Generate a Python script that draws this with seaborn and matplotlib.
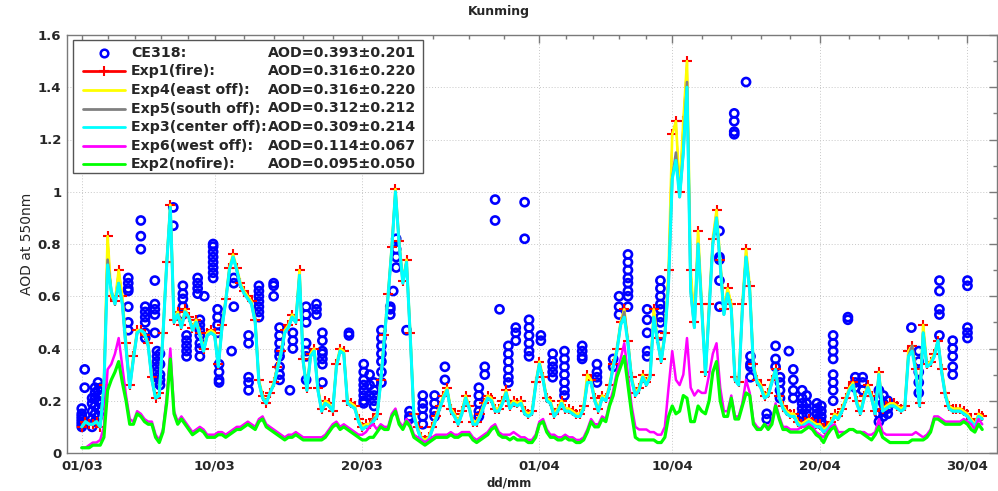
"""AOD time series at Kunming: CE318 observations vs. fire-emission experiments."""

import matplotlib
matplotlib.use("Agg")
import matplotlib.pyplot as plt
import numpy as np
import pandas as pd
import seaborn as sns
from matplotlib.lines import Line2D
from matplotlib.patches import Rectangle
from matplotlib.ticker import FixedLocator, NullFormatter

# model output every 6 h, time in days since 01/03 00:00
STEP_DAYS = 0.25

exp1_fire = [
    0.10, 0.12, 0.11, 0.11, 0.12, 0.10, 0.26, 0.83,
    0.60, 0.58, 0.70, 0.60, 0.42, 0.26, 0.37, 0.47,
    0.47, 0.45, 0.42, 0.29, 0.21, 0.23, 0.46, 0.73,
    0.95, 0.51, 0.54, 0.49, 0.55, 0.52, 0.48, 0.51,
    0.46, 0.40, 0.46, 0.47, 0.46, 0.34, 0.49, 0.59,
    0.71, 0.76, 0.71, 0.65, 0.62, 0.60, 0.58, 0.51,
    0.28, 0.22, 0.19, 0.23, 0.27, 0.33, 0.39, 0.47,
    0.49, 0.53, 0.51, 0.70, 0.36, 0.25, 0.38, 0.40,
    0.25, 0.17, 0.20, 0.19, 0.16, 0.34, 0.40, 0.39,
    0.20, 0.19, 0.18, 0.13, 0.10, 0.11, 0.11, 0.13,
    0.15, 0.28, 0.45, 0.61, 0.79, 1.01, 0.81, 0.66,
    0.74, 0.46, 0.15, 0.10, 0.06, 0.05, 0.06, 0.10,
    0.14, 0.18, 0.22, 0.25, 0.17, 0.15, 0.12, 0.16,
    0.22, 0.18, 0.12, 0.12, 0.15, 0.19, 0.22, 0.21,
    0.17, 0.17, 0.20, 0.24, 0.18, 0.20, 0.19, 0.20,
    0.16, 0.15, 0.16, 0.27, 0.35, 0.29, 0.21, 0.20,
    0.15, 0.17, 0.20, 0.17, 0.17, 0.16, 0.15, 0.15,
    0.18, 0.30, 0.28, 0.21, 0.17, 0.22, 0.21, 0.26,
    0.34, 0.40, 0.50, 0.55, 0.43, 0.29, 0.23, 0.25,
    0.30, 0.27, 0.30, 0.55, 0.44, 0.36, 0.46, 0.70,
    1.22, 1.27, 1.00, 1.27, 1.50, 0.70, 0.50, 0.85,
    0.57, 0.31, 0.57, 0.82, 0.93, 0.74, 0.55, 0.63,
    0.57, 0.29, 0.27, 0.57, 0.78, 0.64, 0.34, 0.28,
    0.26, 0.22, 0.23, 0.28, 0.32, 0.22, 0.18, 0.16,
    0.15, 0.15, 0.12, 0.11, 0.12, 0.13, 0.12, 0.11,
    0.11, 0.09, 0.10, 0.12, 0.15, 0.14, 0.17, 0.21,
    0.25, 0.27, 0.20, 0.16, 0.22, 0.26, 0.22, 0.16,
    0.31, 0.17, 0.18, 0.19, 0.19, 0.18, 0.17, 0.18,
    0.39, 0.41, 0.32, 0.19, 0.49, 0.34, 0.35, 0.38,
    0.43, 0.32, 0.23, 0.18, 0.17, 0.17, 0.17, 0.16,
    0.15, 0.13, 0.11, 0.15, 0.14,
]

# east-off run gives the same statistics as the fire run (0.316 +- 0.220)
exp4_east_off = exp1_fire

exp5_south_off = [
    0.10, 0.12, 0.11, 0.11, 0.12, 0.10, 0.25, 0.74,
    0.62, 0.57, 0.65, 0.57, 0.40, 0.25, 0.36, 0.46,
    0.47, 0.46, 0.41, 0.28, 0.21, 0.22, 0.45, 0.72,
    0.94, 0.50, 0.53, 0.48, 0.54, 0.52, 0.47, 0.50,
    0.45, 0.39, 0.45, 0.46, 0.45, 0.33, 0.48, 0.58,
    0.70, 0.75, 0.70, 0.64, 0.61, 0.59, 0.57, 0.50,
    0.27, 0.21, 0.19, 0.23, 0.26, 0.32, 0.38, 0.46,
    0.48, 0.52, 0.50, 0.68, 0.35, 0.24, 0.37, 0.39,
    0.24, 0.16, 0.19, 0.18, 0.16, 0.33, 0.39, 0.38,
    0.19, 0.18, 0.17, 0.12, 0.09, 0.10, 0.10, 0.13,
    0.14, 0.27, 0.44, 0.60, 0.78, 1.00, 0.80, 0.65,
    0.73, 0.45, 0.14, 0.09, 0.05, 0.04, 0.05, 0.09,
    0.13, 0.17, 0.21, 0.24, 0.16, 0.14, 0.11, 0.15,
    0.21, 0.17, 0.11, 0.11, 0.14, 0.18, 0.21, 0.20,
    0.16, 0.16, 0.19, 0.23, 0.17, 0.19, 0.18, 0.19,
    0.15, 0.14, 0.15, 0.26, 0.34, 0.28, 0.20, 0.19,
    0.14, 0.16, 0.19, 0.16, 0.16, 0.15, 0.14, 0.14,
    0.17, 0.27, 0.27, 0.20, 0.16, 0.21, 0.20, 0.25,
    0.33, 0.39, 0.49, 0.54, 0.42, 0.28, 0.22, 0.24,
    0.29, 0.26, 0.29, 0.52, 0.43, 0.35, 0.45, 0.65,
    1.05, 1.15, 0.98, 1.15, 1.42, 0.62, 0.48, 0.80,
    0.55, 0.30, 0.55, 0.80, 0.90, 0.72, 0.53, 0.61,
    0.55, 0.28, 0.26, 0.55, 0.75, 0.62, 0.33, 0.27,
    0.25, 0.21, 0.22, 0.27, 0.32, 0.21, 0.17, 0.15,
    0.14, 0.14, 0.11, 0.10, 0.11, 0.12, 0.11, 0.10,
    0.10, 0.08, 0.09, 0.11, 0.14, 0.13, 0.16, 0.20,
    0.24, 0.26, 0.19, 0.15, 0.21, 0.25, 0.21, 0.15,
    0.30, 0.16, 0.17, 0.18, 0.18, 0.17, 0.16, 0.17,
    0.37, 0.41, 0.31, 0.18, 0.46, 0.33, 0.34, 0.37,
    0.43, 0.31, 0.22, 0.17, 0.16, 0.16, 0.16, 0.15,
    0.14, 0.12, 0.10, 0.14, 0.13,
]

exp3_center_off = [
    0.10, 0.12, 0.11, 0.11, 0.12, 0.10, 0.25, 0.72,
    0.62, 0.57, 0.65, 0.57, 0.40, 0.25, 0.36, 0.46,
    0.47, 0.46, 0.41, 0.28, 0.21, 0.22, 0.45, 0.72,
    0.94, 0.50, 0.53, 0.48, 0.54, 0.52, 0.47, 0.50,
    0.45, 0.39, 0.45, 0.46, 0.45, 0.33, 0.48, 0.58,
    0.70, 0.75, 0.70, 0.64, 0.61, 0.59, 0.57, 0.50,
    0.27, 0.21, 0.19, 0.23, 0.26, 0.32, 0.38, 0.46,
    0.48, 0.52, 0.50, 0.68, 0.35, 0.24, 0.37, 0.39,
    0.24, 0.16, 0.19, 0.18, 0.16, 0.33, 0.39, 0.38,
    0.19, 0.18, 0.17, 0.12, 0.09, 0.10, 0.10, 0.12,
    0.14, 0.27, 0.44, 0.60, 0.78, 1.00, 0.80, 0.65,
    0.73, 0.45, 0.14, 0.09, 0.05, 0.04, 0.05, 0.09,
    0.13, 0.17, 0.21, 0.24, 0.16, 0.14, 0.11, 0.15,
    0.21, 0.17, 0.11, 0.11, 0.14, 0.18, 0.21, 0.20,
    0.16, 0.16, 0.19, 0.23, 0.17, 0.19, 0.18, 0.19,
    0.15, 0.14, 0.15, 0.26, 0.34, 0.28, 0.20, 0.19,
    0.14, 0.16, 0.19, 0.16, 0.16, 0.15, 0.14, 0.14,
    0.17, 0.27, 0.27, 0.20, 0.16, 0.21, 0.20, 0.25,
    0.33, 0.39, 0.49, 0.52, 0.42, 0.28, 0.22, 0.24,
    0.29, 0.26, 0.29, 0.52, 0.43, 0.35, 0.45, 0.65,
    1.05, 1.12, 0.98, 1.15, 1.40, 0.62, 0.48, 0.80,
    0.55, 0.30, 0.55, 0.80, 0.90, 0.72, 0.53, 0.61,
    0.55, 0.28, 0.26, 0.55, 0.75, 0.62, 0.33, 0.27,
    0.25, 0.21, 0.22, 0.27, 0.32, 0.21, 0.17, 0.15,
    0.14, 0.14, 0.11, 0.10, 0.11, 0.12, 0.11, 0.10,
    0.10, 0.08, 0.09, 0.11, 0.14, 0.13, 0.16, 0.20,
    0.24, 0.26, 0.19, 0.15, 0.21, 0.25, 0.21, 0.15,
    0.30, 0.16, 0.17, 0.18, 0.18, 0.17, 0.16, 0.17,
    0.37, 0.39, 0.31, 0.18, 0.46, 0.33, 0.34, 0.37,
    0.43, 0.31, 0.22, 0.17, 0.16, 0.16, 0.16, 0.15,
    0.14, 0.12, 0.10, 0.14, 0.13,
]

exp6_west_off = [
    0.02, 0.02, 0.03, 0.04, 0.04, 0.05, 0.10, 0.32,
    0.34, 0.38, 0.44, 0.33, 0.22, 0.13, 0.12, 0.16,
    0.15, 0.13, 0.12, 0.12, 0.07, 0.05, 0.09, 0.21,
    0.40, 0.16, 0.12, 0.14, 0.12, 0.10, 0.08, 0.09,
    0.10, 0.09, 0.07, 0.07, 0.07, 0.08, 0.08, 0.07,
    0.08, 0.09, 0.10, 0.10, 0.11, 0.12, 0.11, 0.10,
    0.13, 0.14, 0.11, 0.10, 0.09, 0.08, 0.07, 0.06,
    0.07, 0.07, 0.08, 0.07, 0.06, 0.06, 0.06, 0.06,
    0.06, 0.06, 0.07, 0.09, 0.11, 0.12, 0.10, 0.11,
    0.10, 0.09, 0.08, 0.07, 0.07, 0.08, 0.10, 0.11,
    0.09, 0.11, 0.10, 0.10, 0.15, 0.17, 0.12, 0.10,
    0.13, 0.11, 0.07, 0.06, 0.05, 0.04, 0.05, 0.06,
    0.07, 0.07, 0.07, 0.07, 0.08, 0.07, 0.07, 0.08,
    0.08, 0.08, 0.06, 0.05, 0.06, 0.07, 0.08, 0.10,
    0.11, 0.08, 0.07, 0.07, 0.07, 0.08, 0.07, 0.06,
    0.06, 0.05, 0.05, 0.07, 0.12, 0.13, 0.09, 0.07,
    0.07, 0.06, 0.06, 0.07, 0.06, 0.06, 0.05, 0.05,
    0.06, 0.09, 0.13, 0.11, 0.11, 0.14, 0.13, 0.19,
    0.24, 0.31, 0.36, 0.42, 0.30, 0.18, 0.10, 0.09,
    0.09, 0.09, 0.08, 0.08, 0.07, 0.07, 0.10, 0.25,
    0.39, 0.28, 0.26, 0.30, 0.44, 0.25, 0.22, 0.24,
    0.23, 0.23, 0.30, 0.38, 0.42, 0.25, 0.16, 0.16,
    0.22, 0.14, 0.14, 0.19, 0.28, 0.23, 0.12, 0.10,
    0.09, 0.11, 0.10, 0.12, 0.19, 0.14, 0.10, 0.10,
    0.09, 0.09, 0.09, 0.10, 0.10, 0.11, 0.10, 0.08,
    0.07, 0.06, 0.08, 0.10, 0.11, 0.08, 0.08, 0.08,
    0.09, 0.09, 0.08, 0.08, 0.08, 0.07, 0.07, 0.08,
    0.13, 0.08, 0.07, 0.07, 0.07, 0.07, 0.07, 0.07,
    0.07, 0.07, 0.08, 0.07, 0.06, 0.07, 0.09, 0.14,
    0.14, 0.13, 0.12, 0.12, 0.12, 0.12, 0.12, 0.13,
    0.12, 0.11, 0.09, 0.13, 0.11,
]

exp2_nofire = [
    0.02, 0.02, 0.02, 0.03, 0.03, 0.03, 0.06, 0.24,
    0.28, 0.31, 0.35, 0.27, 0.20, 0.11, 0.11, 0.15,
    0.14, 0.12, 0.11, 0.11, 0.06, 0.04, 0.08, 0.19,
    0.36, 0.15, 0.11, 0.13, 0.11, 0.09, 0.07, 0.08,
    0.09, 0.08, 0.06, 0.06, 0.06, 0.07, 0.07, 0.06,
    0.07, 0.08, 0.09, 0.09, 0.10, 0.11, 0.10, 0.09,
    0.12, 0.13, 0.10, 0.09, 0.08, 0.07, 0.06, 0.05,
    0.06, 0.06, 0.07, 0.06, 0.05, 0.05, 0.05, 0.05,
    0.05, 0.05, 0.06, 0.08, 0.10, 0.11, 0.09, 0.10,
    0.09, 0.08, 0.07, 0.06, 0.05, 0.05, 0.06, 0.06,
    0.08, 0.10, 0.09, 0.09, 0.14, 0.16, 0.11, 0.09,
    0.12, 0.10, 0.06, 0.05, 0.04, 0.03, 0.04, 0.05,
    0.06, 0.06, 0.06, 0.06, 0.07, 0.06, 0.06, 0.07,
    0.07, 0.07, 0.05, 0.04, 0.05, 0.06, 0.07, 0.09,
    0.10, 0.07, 0.06, 0.06, 0.05, 0.06, 0.05, 0.05,
    0.05, 0.04, 0.04, 0.06, 0.11, 0.12, 0.08, 0.06,
    0.06, 0.05, 0.05, 0.06, 0.05, 0.05, 0.04, 0.04,
    0.05, 0.08, 0.12, 0.10, 0.10, 0.13, 0.12, 0.18,
    0.22, 0.29, 0.33, 0.37, 0.26, 0.15, 0.06, 0.05,
    0.05, 0.05, 0.05, 0.05, 0.04, 0.04, 0.06, 0.14,
    0.18, 0.15, 0.16, 0.22, 0.21, 0.12, 0.12, 0.18,
    0.16, 0.15, 0.20, 0.31, 0.35, 0.20, 0.14, 0.14,
    0.21, 0.13, 0.13, 0.18, 0.23, 0.22, 0.11, 0.09,
    0.09, 0.11, 0.09, 0.11, 0.18, 0.13, 0.09, 0.09,
    0.08, 0.08, 0.08, 0.08, 0.09, 0.10, 0.09, 0.07,
    0.06, 0.04, 0.07, 0.09, 0.10, 0.06, 0.07, 0.08,
    0.09, 0.09, 0.08, 0.08, 0.07, 0.06, 0.05, 0.07,
    0.10, 0.06, 0.05, 0.04, 0.04, 0.04, 0.04, 0.04,
    0.04, 0.05, 0.05, 0.05, 0.05, 0.06, 0.08, 0.13,
    0.13, 0.12, 0.11, 0.11, 0.11, 0.11, 0.11, 0.12,
    0.11, 0.09, 0.08, 0.11, 0.09,
]

# CE318 sun photometer: day of each observation group and its AOD values
ce318_days = [
    0.0, 0.2, 0.7, 0.9, 1.1, 1.3, 3.15, 4.0, 4.3, 4.95, 5.1, 5.3, 6.2, 6.85,
    7.1, 7.85, 8.0, 8.3, 8.9, 9.2, 9.3, 10.15, 10.3, 11.3, 12.0, 13.0, 13.4,
    14.1, 14.3, 15.2, 15.9, 16.3, 18.1, 19.1, 19.5, 19.8, 20.3, 20.9, 21.1,
    21.3, 22.0, 22.2, 23.1, 23.9, 24.6, 26.9, 27.3, 28.0, 28.3, 28.9, 29.4,
    30.0, 30.3, 31.1, 31.9, 32.7, 33.9, 34.9, 36.0, 36.4, 37.0, 38.3, 39.2,
    43.2, 44.2, 45.0, 45.3, 46.4, 47.0, 47.3, 47.9, 48.2, 48.8, 49.1, 49.8,
    50.1, 50.9, 51.9, 52.4, 52.9, 54.0, 54.3, 54.6, 56.2, 56.7, 58.1, 59.0,
    60.0,
]
ce318_aod = [
    [0.17, 0.15, 0.14, 0.13, 0.12, 0.11, 0.10], [0.32, 0.25],
    [0.10, 0.13, 0.16, 0.19, 0.21], [0.12, 0.15, 0.18, 0.21, 0.23, 0.25],
    [0.14, 0.17, 0.20, 0.24, 0.27], [0.16, 0.19, 0.22, 0.25],
    [0.67, 0.65, 0.63, 0.62, 0.56, 0.50, 0.47], [0.89, 0.83, 0.78],
    [0.56, 0.54, 0.52, 0.50, 0.46, 0.44], [0.66, 0.57, 0.55, 0.53, 0.46],
    [0.39, 0.37, 0.35, 0.33, 0.31, 0.29, 0.27], [0.38, 0.34, 0.30, 0.28, 0.26],
    [0.94, 0.87], [0.64, 0.61, 0.59, 0.56, 0.53], [0.45, 0.43, 0.41, 0.39, 0.37],
    [0.67, 0.65, 0.63, 0.61], [0.51, 0.49, 0.47, 0.45, 0.42, 0.40, 0.37],
    [0.60], [0.80, 0.79, 0.77, 0.75, 0.73, 0.71, 0.69, 0.67],
    [0.55, 0.52, 0.49, 0.46], [0.34, 0.31, 0.28, 0.27], [0.39],
    [0.67, 0.65, 0.56], [0.45, 0.42, 0.29, 0.27, 0.24],
    [0.64, 0.62, 0.60, 0.58, 0.56, 0.54, 0.52], [0.65, 0.64, 0.60],
    [0.48, 0.45, 0.42, 0.39, 0.37, 0.33, 0.30, 0.28], [0.24], [0.46, 0.43, 0.40],
    [0.56, 0.53, 0.50, 0.42, 0.39, 0.37, 0.28], [0.57, 0.55, 0.53],
    [0.46, 0.43, 0.39, 0.38, 0.36, 0.34, 0.27], [0.46, 0.45],
    [0.34, 0.31, 0.28, 0.26, 0.24, 0.22, 0.20, 0.19], [0.30, 0.26, 0.22],
    [0.27, 0.24, 0.22, 0.20, 0.18], [0.47, 0.44, 0.41, 0.38, 0.35, 0.31, 0.27],
    [0.56, 0.55, 0.53], [0.62], [0.82, 0.78, 0.75, 0.71], [0.47],
    [0.16, 0.14, 0.13], [0.22, 0.19, 0.17, 0.14, 0.11], [0.22, 0.19, 0.16, 0.14],
    [0.33, 0.28], [0.25, 0.22, 0.19, 0.16, 0.14], [0.33, 0.30], [0.97, 0.89],
    [0.55], [0.41, 0.38, 0.35, 0.32, 0.29, 0.27], [0.48, 0.46, 0.43],
    [0.96, 0.82], [0.51, 0.48, 0.45, 0.42, 0.39, 0.37], [0.45, 0.43],
    [0.38, 0.35, 0.33, 0.31, 0.29], [0.39, 0.36, 0.33, 0.30, 0.27, 0.24, 0.22],
    [0.41, 0.39, 0.37, 0.36], [0.34, 0.31, 0.29, 0.27], [0.36, 0.33],
    [0.60, 0.56, 0.53], [0.76, 0.73, 0.70, 0.67, 0.65, 0.62, 0.60, 0.56],
    [0.55, 0.51, 0.46, 0.39, 0.37], [0.66, 0.63, 0.60, 0.57, 0.55, 0.52, 0.50, 0.45],
    [0.85, 0.75, 0.74, 0.66, 0.56], [1.30, 1.27, 1.23, 1.22], [1.42],
    [0.37, 0.34, 0.33, 0.29], [0.15, 0.13], [0.41, 0.36, 0.33],
    [0.29, 0.27, 0.24, 0.21], [0.39], [0.32, 0.28, 0.24, 0.21],
    [0.24, 0.21, 0.19, 0.17, 0.15, 0.14], [0.22, 0.19, 0.17, 0.15],
    [0.19, 0.17, 0.15, 0.13, 0.12], [0.18, 0.16, 0.14, 0.12, 0.11],
    [0.45, 0.42, 0.39, 0.36, 0.30, 0.27, 0.24, 0.20], [0.52, 0.51],
    [0.29, 0.27, 0.25], [0.29, 0.27, 0.24], [0.24, 0.21, 0.18, 0.15, 0.12],
    [0.22, 0.19, 0.16, 0.14], [0.20, 0.17, 0.15], [0.48],
    [0.39, 0.35, 0.31, 0.27, 0.23], [0.66, 0.62, 0.55, 0.53, 0.45],
    [0.43, 0.40, 0.37, 0.33, 0.30], [0.66, 0.64, 0.48, 0.46, 0.44],
]

legend_names = ["CE318:", "Exp1(fire):", "Exp4(east off):", "Exp5(south off):",
                "Exp3(center off):", "Exp6(west off):", "Exp2(nofire):"]
legend_mean = [0.393, 0.316, 0.316, 0.312, 0.309, 0.114, 0.095]
legend_std = [0.201, 0.220, 0.220, 0.212, 0.214, 0.067, 0.050]

tick_days = [0, 9, 19, 31, 40, 50, 60]
tick_labels = ["01/03", "10/03", "20/03", "01/04", "10/04", "20/04", "30/04"]
y_ticks = [0, 0.2, 0.4, 0.6, 0.8, 1.0, 1.2, 1.4, 1.6]
y_tick_labels = ["0", "0.2", "0.4", "0.6", "0.8", "1", "1.2", "1.4", "1.6"]

W, H = 998, 491
RED = "#ff0000"


def fig_xy(x_px, y_px):
    return x_px / W, 1 - y_px / H


def main() -> None:
    sns.set_style("white")
    plt.rcParams["font.family"] = ["DejaVu Sans"]

    fig = plt.figure(figsize=(W / 100, H / 100), dpi=100)
    ax = fig.add_axes([67 / W, 38 / H, 930 / W, 418 / H])

    model_days = np.arange(len(exp3_center_off)) * STEP_DAYS
    obs = pd.DataFrame({
        "day": np.repeat(ce318_days, [len(v) for v in ce318_aod]),
        "aod": np.concatenate(ce318_aod),
    })

    sns.scatterplot(data=obs, x="day", y="aod", ax=ax, marker="o", s=34,
                    fc="none", ec="#0000ff", linewidth=1.9, zorder=2, legend=False)

    line_styles = [
        (exp1_fire, RED, 1.2,
         dict(marker="+", markersize=7, markeredgewidth=1.5, markeredgecolor=RED)),
        (exp4_east_off, "#ffff00", 1.9, {}),
        (exp5_south_off, "#808080", 1.9, {}),
        (exp3_center_off, "#00ffff", 2.2, {}),
        (exp6_west_off, "#ff00ff", 1.8, {}),
        (exp2_nofire, "#00ff00", 2.3, {}),
    ]
    for z, (values, color, lw, extra) in enumerate(line_styles):
        sns.lineplot(x=model_days, y=values, ax=ax, color=color, linewidth=lw,
                     zorder=3 + z, legend=False, **extra)

    ax.set_xlim(-1, 62)
    ax.set_ylim(0, 1.6)
    ax.set_xticks(tick_days)
    ax.set_xticklabels(tick_labels)
    minor_x = []
    for a, b in zip(tick_days[:-1], tick_days[1:]):
        minor_x.extend(np.linspace(a, b, 6)[1:-1])
    ax.xaxis.set_minor_locator(FixedLocator(minor_x))
    ax.set_yticks(y_ticks)
    ax.set_yticklabels(y_tick_labels)
    ax.yaxis.set_minor_locator(FixedLocator(np.arange(0.1, 1.6, 0.2)))
    ax.xaxis.set_minor_formatter(NullFormatter())

    ax.grid(True, which="major", linestyle=(0, (1, 2)), color="#c8c8c8", linewidth=0.7)
    for spine in ax.spines.values():
        spine.set_color("#7a7a7a")
        spine.set_linewidth(1.0)
    ax.tick_params(which="both", direction="in", top=True, right=True, color="#7a7a7a")
    ax.tick_params(which="major", length=6, width=1.0)
    ax.tick_params(which="minor", length=3, width=1.0)
    ax.tick_params(axis="x", which="major", pad=5)
    ax.tick_params(axis="y", which="major", pad=4)
    for lab in ax.get_xticklabels() + ax.get_yticklabels():
        lab.set_fontweight("bold")
        lab.set_fontsize(9.5)

    ax.set_xlabel("dd/mm", fontsize=8.5, fontweight="bold")
    ax.xaxis.set_label_coords(0.475, -0.057)
    ax.set_ylabel("AOD at 550nm", fontsize=10)
    ax.yaxis.set_label_coords(-0.036, 0.5)
    fig.text(0.5, 1 - 12 / H, "Kunming", ha="center", va="center",
             fontsize=9, fontweight="bold")

    # legend box drawn in figure pixels
    x0, y0, x1, y1 = 73, 40, 423, 173
    fx0, fy1 = fig_xy(x0, y1)
    fig.patches.append(Rectangle((fx0, fy1), (x1 - x0) / W, (y1 - y0) / H,
                                 transform=fig.transFigure, facecolor="white",
                                 edgecolor="#555555", linewidth=1.0, zorder=20))
    handle_colors = ["#0000ff", RED, "#ffff00", "#808080", "#00ffff",
                     "#ff00ff", "#00ff00"]
    for i, name in enumerate(legend_names):
        ry = 52.7 + 18.6 * i
        if i == 0:
            fx, fy = fig_xy(104, ry)
            fig.lines.append(Line2D([fx], [fy], transform=fig.transFigure, marker="o",
                                    markersize=5.5, mfc="none", mec=handle_colors[i],
                                    mew=1.8, linestyle="none", zorder=21))
        else:
            hx0, hy = fig_xy(83, ry)
            hx1, _ = fig_xy(125, ry)
            extra = dict(marker="+", markersize=7, mew=1.5, markevery=[1]) if i == 1 else {}
            fig.lines.append(Line2D([hx0, (hx0 + hx1) / 2, hx1], [hy, hy, hy],
                                    transform=fig.transFigure, color=handle_colors[i],
                                    linewidth=2.0, zorder=21, **extra))
        tx, ty = fig_xy(131, ry)
        fig.text(tx, ty, name, ha="left", va="center", fontsize=10.2,
                 fontweight="bold", zorder=22)
        sx, _ = fig_xy(416, ry)
        fig.text(sx, ty, f"AOD={legend_mean[i]:.3f}\u00b1{legend_std[i]:.3f}",
                 ha="right", va="center", fontsize=10.2, fontweight="bold", zorder=22)

    fig.savefig("out.png", dpi=100)
    plt.close(fig)


if __name__ == "__main__":
    main()
